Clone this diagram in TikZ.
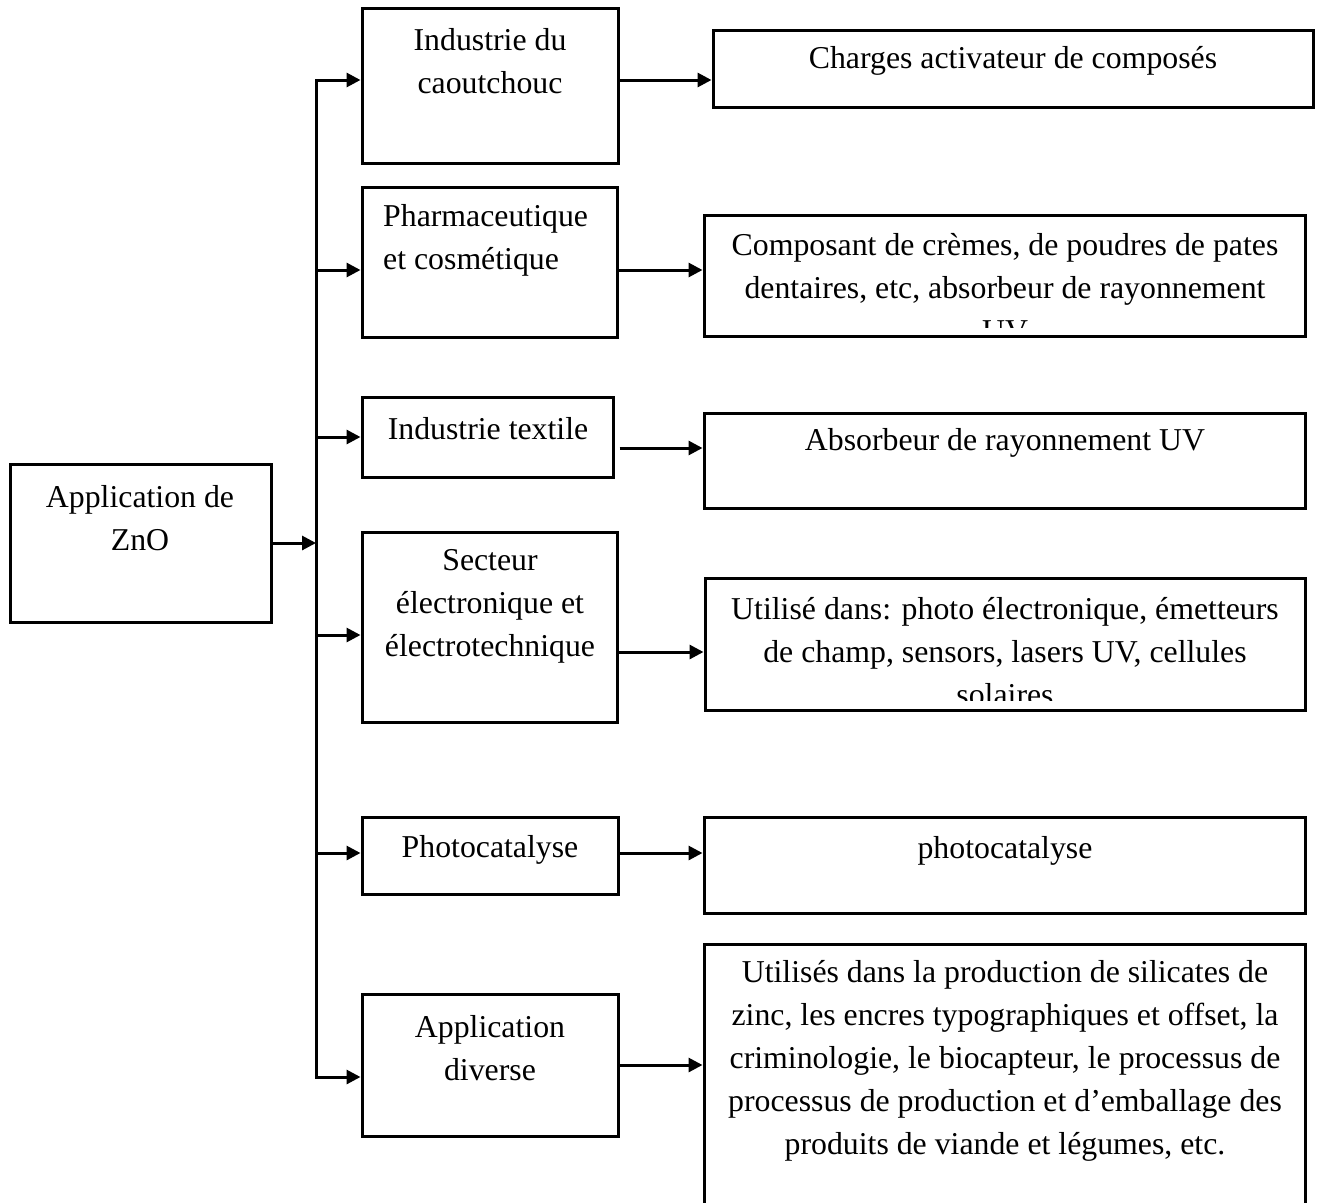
\documentclass[tikz,border=0pt]{standalone}
\usepackage{fontspec}
\setmainfont{Liberation Serif}
\usetikzlibrary{arrows.meta,fit}
\begin{document}
\begin{tikzpicture}[x=1pt,y=-1pt,
  box/.style={draw,line width=3pt,inner sep=0pt},
  txt/.style={inner sep=0pt,anchor=north,align=center,font=\fontsize{31.8}{43}\selectfont},
  arr/.style={line width=3pt,-{Triangle[length=14pt,width=14pt]}},
  ]
\clip (0,0) rectangle (1322,1202);
\fill[white] (0,0) rectangle (1322,1202);

% boxes
\node[box,fit={(10,464) (271,622)}] (L) {};
\node[box,fit={(362,8) (618,163)}] (A) {};
\node[box,fit={(362,187) (617,337)}] (B) {};
\node[box,fit={(362,397) (613,477)}] (C) {};
\node[box,fit={(362,532) (617,722)}] (D) {};
\node[box,fit={(362,817) (618,894)}] (E) {};
\node[box,fit={(362,994) (618,1136)}] (F) {};
\node[box,fit={(713,30) (1313,107)}] (R1) {};
\node[box,fit={(704,215) (1305,336)}] (R2) {};
\node[box,fit={(704,413) (1305,508)}] (R3) {};
\node[box,fit={(705,578) (1305,710)}] (R4) {};
\node[box,fit={(704,817) (1305,913)}] (R5) {};
\node[box,fit={(704,944) (1305,1230)}] (R6) {};

% texts
\node[txt] (Lt) at (140,485) {Application de\\ZnO};
\node[txt] (At) at (490,28) {Industrie du\\caoutchouc};
\node[txt,anchor=north west,align=left] (Bt) at (383,204) {Pharmaceutique\\et cosmétique};
\node[txt] (Ct) at (488,417) {Industrie textile};
\node[txt] (Dt) at (490,549) {Secteur\\électronique et\\électrotechnique};
\node[txt] (Et) at (490,835) {Photocatalyse};
\node[txt] (Ft) at (490,1015) {Application\\diverse};
\begin{scope}
  \clip ([yshift=-2pt]R1.north west) rectangle ([yshift=10pt]R1.south east);
  \node[txt] (R1t) at (1013,46) {Charges activateur de composés};
\end{scope}
\begin{scope}
  \clip ([yshift=-2pt]R2.north west) rectangle ([yshift=10pt]R2.south east);
  \node[txt] (R2t) at (1005,233) {Composant de crèmes, de poudres de pates\\dentaires, etc, absorbeur de rayonnement\\UV};
\end{scope}
\node[txt] (R3t) at (1005,428) {Absorbeur de rayonnement UV};
\begin{scope}
  \clip ([yshift=-2pt]R4.north west) rectangle ([yshift=11pt]R4.south east);
  \node[txt] (R4t) at (1005,597) {Utilisé dans: photo électronique, émetteurs\\de champ, sensors, lasers UV, cellules\\solaires};
\end{scope}
\node[txt] (R5t) at (1005,836) {photocatalyse};
\node[txt] (R6t) at (1005,960) {Utilisés dans la production de silicates de\\zinc, les encres typographiques et offset, la\\criminologie, le biocapteur, le processus de\\processus de production et d’emballage des\\produits de viande et légumes, etc.};

% trunk and branch levels
\coordinate (t1) at (316,80);
\coordinate (t2) at (316,1077);
\coordinate (hB) at (316,270);
\coordinate (hC) at (316,437);
\coordinate (hD) at (316,635);
\coordinate (hE) at (316,853);
\coordinate (oC) at (0,448);
\coordinate (oD) at (0,652);
\coordinate (oF) at (0,1065);

\draw[arr] (L.east) -- (L.east -| t1);
\draw[arr] (t2) -- (t1) -- (t1 -| A.west);
\draw[arr] (t1) -- (t2) -- (t2 -| F.west);
\draw[arr] (hB) -- (hB -| B.west);
\draw[arr] (hC) -- (hC -| C.west);
\draw[arr] (hD) -- (hD -| D.west);
\draw[arr] (hE) -- (hE -| E.west);

\draw[arr] (t1 -| A.east) -- (t1 -| R1.west);
\draw[arr] (hB -| B.east) -- (hB -| R2.west);
\draw[arr] ([xshift=5pt]oC -| C.east) -- (oC -| R3.west);
\draw[arr] (oD -| D.east) -- (oD -| R4.west);
\draw[arr] (hE -| E.east) -- (hE -| R5.west);
\draw[arr] (oF -| F.east) -- (oF -| R6.west);
\end{tikzpicture}
\end{document}
